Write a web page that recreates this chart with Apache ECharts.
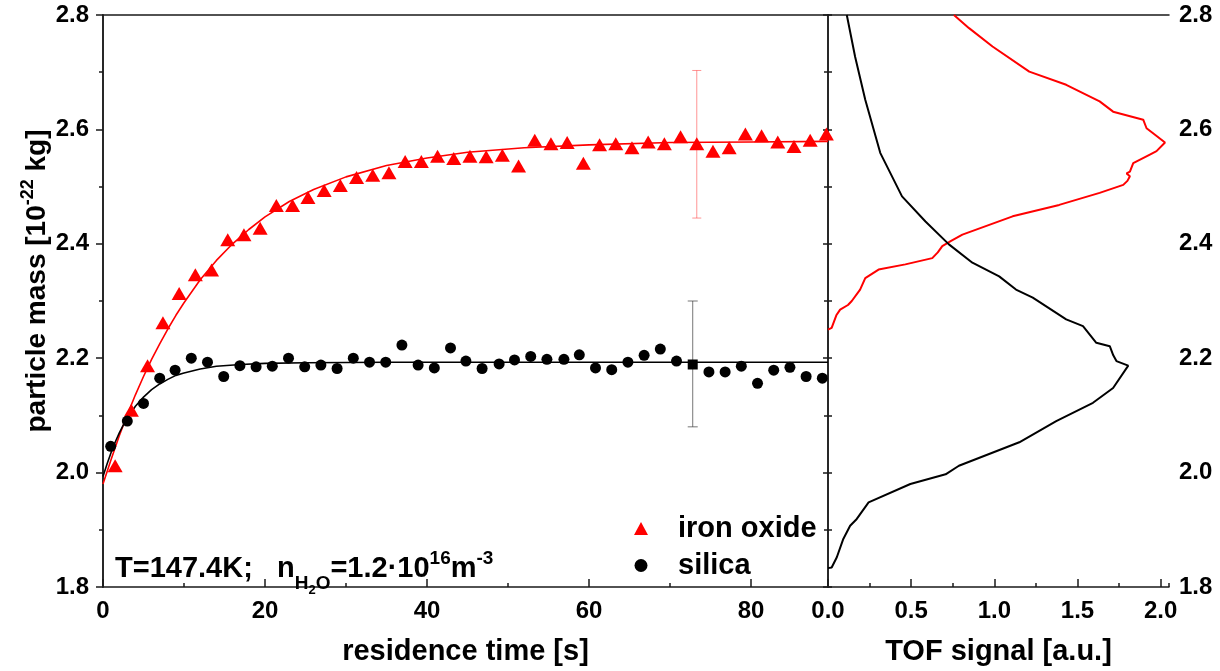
<!DOCTYPE html>
<html>
<head>
<meta charset="utf-8">
<script src="https://cdn.jsdelivr.net/npm/echarts@6/dist/echarts.min.js"></script>
<style>
html,body{margin:0;padding:0;background:#fff;}
#chart{width:1220px;height:671px;}
</style>
</head>
<body>
<div id="chart"></div>
<script>
// ---------- data ----------
const ironT = [1.5, 3.5, 5.5, 7.4, 9.4, 11.4, 13.4, 15.4, 17.4, 19.4, 21.4, 23.4, 25.3, 27.3, 29.3, 31.3, 33.3, 35.3, 37.3, 39.3, 41.3, 43.3, 45.3, 47.3, 49.3, 51.3, 53.3, 55.3, 57.3, 59.3, 61.3, 63.3, 65.3, 67.3, 69.3, 71.3, 73.3, 75.3, 77.3, 79.3, 81.3, 83.3, 85.3, 87.3, 89.3];
const ironM = [2.012, 2.109, 2.187, 2.262, 2.313, 2.346, 2.354, 2.407, 2.416, 2.427, 2.467, 2.467, 2.481, 2.493, 2.502, 2.516, 2.520, 2.524, 2.544, 2.544, 2.553, 2.549, 2.553, 2.552, 2.555, 2.536, 2.581, 2.575, 2.577, 2.541, 2.573, 2.575, 2.568, 2.578, 2.575, 2.587, 2.575, 2.562, 2.568, 2.592, 2.589, 2.578, 2.570, 2.581, 2.592];

const silT = [0.95, 3.0, 5.0, 7.0, 8.9, 10.9, 12.9, 14.9, 16.9, 18.9, 20.9, 22.9, 24.9, 26.9, 28.9, 30.9, 32.9, 34.9, 36.9, 38.9, 40.9, 42.9, 44.8, 46.8, 48.9, 50.8, 52.8, 54.8, 56.9, 58.8, 60.8, 62.8, 64.8, 66.8, 68.8, 70.8, 74.8, 76.8, 78.8, 80.8, 82.8, 84.8, 86.8, 88.8];
const silM = [2.046, 2.090, 2.121, 2.165, 2.179, 2.200, 2.193, 2.168, 2.187, 2.185, 2.186, 2.200, 2.185, 2.188, 2.182, 2.200, 2.193, 2.193, 2.223, 2.188, 2.183, 2.218, 2.195, 2.182, 2.190, 2.197, 2.203, 2.198, 2.198, 2.206, 2.183, 2.180, 2.193, 2.205, 2.216, 2.195, 2.176, 2.176, 2.186, 2.156, 2.179, 2.184, 2.168, 2.165];

// mean point (square) of silica and error bars
const silMeanT = [72.8];
const silMeanM = [2.189];
const silErr = [[72.8, 2.080, 2.300]];
const ironErr = [[73.3, 2.445, 2.703]];

// fit curves
const ironFitT = [0, 1, 2, 3, 4, 5, 6, 7, 8, 9, 10, 12, 14, 16, 18, 20, 23, 26, 30, 35, 40, 45, 52, 60, 70, 80, 89.5];
const ironFitM = [1.980, 2.023, 2.064, 2.101, 2.136, 2.168, 2.198, 2.225, 2.251, 2.275, 2.297, 2.337, 2.371, 2.400, 2.425, 2.447, 2.474, 2.495, 2.517, 2.537, 2.550, 2.560, 2.568, 2.573, 2.577, 2.578, 2.579];
const silFitT = [0, 0.5, 1, 1.5, 2, 2.5, 3, 4, 5, 6, 7, 8, 9, 10, 12, 14, 17, 20, 25, 35, 89.5];
const silFitM = [1.993, 2.015, 2.035, 2.053, 2.069, 2.083, 2.095, 2.116, 2.132, 2.145, 2.155, 2.163, 2.170, 2.174, 2.181, 2.186, 2.189, 2.191, 2.192, 2.193, 2.193];

// TOF signal distributions (signal, mass)
const tofIronSig  = [0.0, 0.022, 0.05, 0.073, 0.12, 0.143, 0.193, 0.224, 0.304, 0.465, 0.627, 0.66, 0.687, 0.74, 0.808, 1.11, 1.39, 1.633, 1.775, 1.80, 1.815, 1.795, 1.815, 1.805, 1.835, 1.935, 1.975, 2.026, 1.96, 1.915, 1.895, 1.714, 1.633, 1.432, 1.21, 0.989, 0.848, 0.757];
const tofIronMass = [2.25, 2.253, 2.275, 2.285, 2.293, 2.300, 2.320, 2.340, 2.355, 2.364, 2.375, 2.385, 2.396, 2.405, 2.416, 2.448, 2.468, 2.489, 2.503, 2.510, 2.518, 2.523, 2.526, 2.529, 2.541, 2.556, 2.562, 2.577, 2.592, 2.602, 2.617, 2.631, 2.649, 2.678, 2.701, 2.745, 2.777, 2.80];
const tofSilSig  = [0.113, 0.163, 0.224, 0.314, 0.445, 0.586, 0.727, 0.868, 1.029, 1.13, 1.231, 1.432, 1.533, 1.613, 1.694, 1.715, 1.734, 1.805, 1.714, 1.593, 1.372, 1.15, 0.787, 0.707, 0.495, 0.244, 0.173, 0.133, 0.092, 0.053, 0.022, 0.0];
const tofSilMass = [2.80, 2.727, 2.652, 2.559, 2.483, 2.439, 2.399, 2.367, 2.343, 2.320, 2.306, 2.268, 2.256, 2.227, 2.221, 2.205, 2.195, 2.187, 2.148, 2.122, 2.090, 2.053, 2.012, 1.997, 1.980, 1.948, 1.919, 1.907, 1.884, 1.852, 1.834, 1.833];

// axis settings
const timeMax = 89.5, timeTick = 20, timeMinor = 10;
const sigMax = 2.05, sigTick = 0.5, sigMinor = 0.25;
const massMin = 1.8, massMax = 2.8, massTick = 0.2, massMinor = 0.1;

// ---------- chart ----------
const zip = (a, b) => a.map((v, i) => [v, b[i]]);
const FONT = '"Liberation Sans", Arial, Helvetica, sans-serif';
const AX = '#1a1a1a';
const lbl = (extra) => Object.assign({fontFamily: FONT, fontWeight: 'bold', fontSize: 24, color: '#000'}, extra || {});
const lineOnly = {show: true, lineStyle: {color: AX, width: 1.5}};
const noLine = {show: false};

function errBar(color, cap) {
  return function (params, api) {
    const x = api.value(0), lo = api.value(1), hi = api.value(2);
    const a = api.coord([x, hi]), b = api.coord([x, lo]);
    const st = {stroke: color, lineWidth: 1};
    return {type: 'group', children: [
      {type: 'line', shape: {x1: a[0], y1: a[1], x2: b[0], y2: b[1]}, style: st},
      {type: 'line', shape: {x1: a[0] - cap, y1: a[1], x2: a[0] + cap, y2: a[1]}, style: st},
      {type: 'line', shape: {x1: b[0] - cap, y1: b[1], x2: b[0] + cap, y2: b[1]}, style: st}
    ]};
  };
}

const chart = echarts.init(document.getElementById('chart'), null, {renderer: 'canvas'});
const option = {
  backgroundColor: '#fff',
  animation: false,
  grid: [
    {left: 103, top: 15, width: 725, height: 574},
    {left: 828, top: 15, width: 341, height: 574}
  ],
  xAxis: [
    {gridIndex: 0, type: 'value', position: 'bottom', min: 0, max: timeMax, interval: timeTick,
     axisLine: lineOnly, axisTick: {inside: true, length: 8, lineStyle: {color: AX, width: 1.5}},
     axisLabel: lbl({margin: 12, showMaxLabel: false}), splitLine: {show: false},
     name: 'residence time [s]', nameLocation: 'middle', nameGap: 50,
     nameTextStyle: lbl({fontSize: 29})},
    {gridIndex: 0, type: 'value', position: 'bottom', min: 0, max: timeMax, interval: timeMinor,
     axisLine: noLine, axisTick: {inside: true, length: 4, lineStyle: {color: AX, width: 1.5}},
     axisLabel: {show: false}, splitLine: {show: false}},
    {gridIndex: 0, type: 'value', position: 'top', min: 0, max: timeMax,
     axisLine: lineOnly, axisTick: {show: false}, axisLabel: {show: false}, splitLine: {show: false}},
    {gridIndex: 1, type: 'value', position: 'bottom', min: 0, max: sigMax, interval: sigTick,
     axisLine: lineOnly, axisTick: {inside: true, length: 8, lineStyle: {color: AX, width: 1.5}},
     axisLabel: lbl({margin: 12, showMaxLabel: false, formatter: v => v.toFixed(1)}), splitLine: {show: false},
     name: 'TOF signal [a.u.]', nameLocation: 'middle', nameGap: 50,
     nameTextStyle: lbl({fontSize: 29})},
    {gridIndex: 1, type: 'value', position: 'bottom', min: 0, max: sigMax, interval: sigMinor,
     axisLine: noLine, axisTick: {inside: true, length: 4, lineStyle: {color: AX, width: 1.5}},
     axisLabel: {show: false}, splitLine: {show: false}},
    {gridIndex: 1, type: 'value', position: 'top', min: 0, max: sigMax,
     axisLine: lineOnly, axisTick: {show: false}, axisLabel: {show: false}, splitLine: {show: false}}
  ],
  yAxis: [
    {gridIndex: 0, type: 'value', position: 'left', min: massMin, max: massMax, interval: massTick,
     axisLine: lineOnly, axisTick: {inside: false, length: 7, lineStyle: {color: AX, width: 1.5}},
     axisLabel: lbl({margin: 14, formatter: v => v.toFixed(1)}), splitLine: {show: false}},
    {gridIndex: 0, type: 'value', position: 'left', min: massMin, max: massMax, interval: massMinor,
     axisLine: noLine, axisTick: {inside: false, length: 4, lineStyle: {color: AX, width: 1.5}},
     axisLabel: {show: false}, splitLine: {show: false}},
    {gridIndex: 0, type: 'value', position: 'right', min: massMin, max: massMax, interval: massMinor,
     axisLine: lineOnly, axisTick: {inside: true, length: 4, lineStyle: {color: AX, width: 1.5}},
     axisLabel: {show: false}, splitLine: {show: false}},
    {gridIndex: 1, type: 'value', position: 'right', min: massMin, max: massMax, interval: massTick,
     axisLine: lineOnly, axisTick: {inside: true, length: 5, lineStyle: {color: AX, width: 1.5}},
     axisLabel: lbl({margin: 10, formatter: v => v.toFixed(1)}), splitLine: {show: false}},
    {gridIndex: 1, type: 'value', position: 'right', min: massMin, max: massMax, interval: massMinor,
     axisLine: noLine, axisTick: {inside: true, length: 4, lineStyle: {color: AX, width: 1.5}},
     axisLabel: {show: false}, splitLine: {show: false}},
    {gridIndex: 1, type: 'value', position: 'left', min: massMin, max: massMax, interval: massMinor,
     axisLine: lineOnly, axisTick: {inside: true, length: 4, lineStyle: {color: AX, width: 1.5}},
     axisLabel: {show: false}, splitLine: {show: false}}
  ],
  legend: {
    orient: 'vertical', left: 629, top: 507, itemWidth: 14, itemHeight: 13, itemGap: 4,
    data: [{name: 'iron oxide', icon: 'triangle'}, {name: 'silica', icon: 'circle'}],
    textStyle: {fontFamily: FONT, fontWeight: 'bold', fontSize: 29, color: '#000', padding: [0, 0, 0, 25], lineHeight: 33},
    selectedMode: false
  },
  series: [
    {type: 'line', name: 'iron fit', xAxisIndex: 0, yAxisIndex: 0, data: zip(ironFitT, ironFitM), smooth: false,
     showSymbol: false, lineStyle: {color: '#ff0000', width: 1.6}, z: 2, clip: true},
    {type: 'line', name: 'silica fit', xAxisIndex: 0, yAxisIndex: 0, data: zip(silFitT, silFitM), smooth: false,
     showSymbol: false, lineStyle: {color: '#000', width: 1.6}, z: 2, clip: true},
    {type: 'custom', name: 'iron err', xAxisIndex: 0, yAxisIndex: 0, data: ironErr, renderItem: errBar('rgba(255,60,60,0.55)', 4.5),
     encode: {x: 0, y: [1, 2]}, z: 1},
    {type: 'custom', name: 'silica err', xAxisIndex: 0, yAxisIndex: 0, data: silErr, renderItem: errBar('rgba(60,60,60,0.7)', 5),
     encode: {x: 0, y: [1, 2]}, z: 1},
    {type: 'scatter', name: 'iron oxide', xAxisIndex: 0, yAxisIndex: 0, data: zip(ironT, ironM), symbol: 'triangle',
     symbolSize: [15, 13], itemStyle: {color: '#ff0000', opacity: 1}, z: 3},
    {type: 'scatter', name: 'silica', xAxisIndex: 0, yAxisIndex: 0, data: zip(silT, silM), symbol: 'circle',
     symbolSize: 11, itemStyle: {color: '#000', opacity: 1}, z: 3},
    {type: 'scatter', name: 'silica mean', xAxisIndex: 0, yAxisIndex: 0, data: zip(silMeanT, silMeanM), symbol: 'rect',
     symbolSize: 10, itemStyle: {color: '#000', opacity: 1}, z: 3},
    {type: 'line', name: 'TOF iron', xAxisIndex: 3, yAxisIndex: 3, data: zip(tofIronSig, tofIronMass),
     showSymbol: false, lineStyle: {color: '#ff0000', width: 2}, z: 2},
    {type: 'line', name: 'TOF silica', xAxisIndex: 3, yAxisIndex: 3, data: zip(tofSilSig, tofSilMass),
     showSymbol: false, lineStyle: {color: '#000', width: 2}, z: 2}
  ],
  graphic: [
    {type: 'text', x: 37, y: 281, rotation: Math.PI / 2, z: 10,
     style: {text: 'particle mass [10{sup|-22} kg]', align: 'center', verticalAlign: 'middle',
       fontFamily: FONT, fontWeight: 'bold', fontSize: 28, fill: '#000',
       rich: {sup: {fontFamily: FONT, fontWeight: 'bold', fontSize: 18, fill: '#000', padding: [0, 0, 18, 0]}}}},
    {type: 'text', x: 115, y: 569, z: 10,
     style: {text: 'T=147.4K;   n{sub|H}{sub2|2}{sub|O}=1.2·10{sup|16}m{sup|-3}', align: 'left', verticalAlign: 'middle',
       fontFamily: FONT, fontWeight: 'bold', fontSize: 29, fill: '#000',
       rich: {
         sub: {fontFamily: FONT, fontWeight: 'bold', fontSize: 19, fill: '#000', padding: [30, 0, 0, 0]},
         sub2: {fontFamily: FONT, fontWeight: 'bold', fontSize: 13, fill: '#000', padding: [42, 0, 0, 0]},
         sup: {fontFamily: FONT, fontWeight: 'bold', fontSize: 19, fill: '#000', padding: [0, 0, 20, 0]}
       }}}
  ]
};
chart.setOption(option);
</script>
</body>
</html>
